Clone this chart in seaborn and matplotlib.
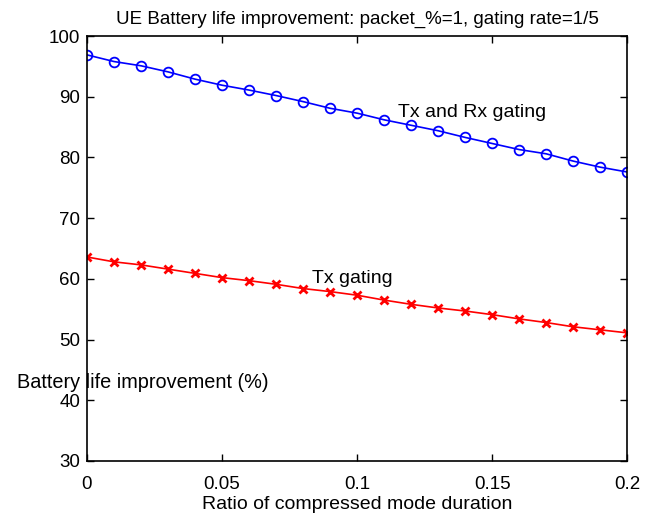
import numpy as np
import pandas as pd
import seaborn as sns
import matplotlib.pyplot as plt

ratio = [0.00, 0.01, 0.02, 0.03, 0.04, 0.05, 0.06, 0.07, 0.08, 0.09, 0.10,
         0.11, 0.12, 0.13, 0.14, 0.15, 0.16, 0.17, 0.18, 0.19, 0.20]
tx_rx_gating = [96.9, 95.8, 95.1, 94.1, 92.9, 91.9, 91.1, 90.2, 89.2, 88.1, 87.3,
                86.2, 85.3, 84.4, 83.3, 82.3, 81.3, 80.6, 79.4, 78.4, 77.6]
tx_gating = [63.6, 62.8, 62.3, 61.6, 60.9, 60.2, 59.7, 59.1, 58.4, 57.9, 57.3,
             56.5, 55.8, 55.2, 54.7, 54.1, 53.4, 52.8, 52.1, 51.6, 51.1]

sns.set_style("ticks")
plt.rcParams['font.family'] = ['Liberation Sans', 'DejaVu Sans']
plt.rcParams['text.color'] = 'black'
plt.rcParams['axes.labelcolor'] = 'black'

fig = plt.figure(figsize=(6.54, 5.15), dpi=100)
ax = fig.add_axes([0.133, 0.105, 0.826, 0.825])

sns.lineplot(x=ratio, y=tx_rx_gating, ax=ax, color="blue", marker="o", markersize=7,
             markerfacecolor="none", markeredgecolor="blue", markeredgewidth=1.3, linewidth=1.2)
sns.lineplot(x=ratio, y=tx_gating, ax=ax, color="red", marker="x", markersize=6,
             markeredgecolor="red", markeredgewidth=2, linewidth=1.2)

ax.set_xlim(0, 0.2)
ax.set_ylim(30, 100)
ax.set_xticks([0, 0.05, 0.1, 0.15, 0.2])
ax.set_xticklabels(["0", "0.05", "0.1", "0.15", "0.2"])
ax.set_yticks(range(30, 101, 10))
ax.tick_params(direction="in", length=5, width=1, labelsize=13.5, top=True, right=True,
               colors="black")
ax.tick_params(axis="x", pad=11)
ax.tick_params(axis="y", pad=5)
for s in ax.spines.values():
    s.set_visible(True)
    s.set_linewidth(1.2)
    s.set_color("black")

ax.set_title("UE Battery life improvement: packet_%=1, gating rate=1/5", fontsize=13.5, pad=9)
ax.set_xlabel("Ratio of compressed mode duration", fontsize=14, labelpad=2)
ax.set_ylabel("Battery life improvement (%)", fontsize=14.3, rotation=0, ha="center", va="center")
ax.yaxis.set_label_coords(0.104, 0.1835)

ax.text(0.1152, 86.7, "Tx and Rx gating", fontsize=14, va="baseline")
ax.text(0.0832, 59.3, "Tx gating", fontsize=14, va="baseline")

fig.savefig("out.png", dpi=100)
